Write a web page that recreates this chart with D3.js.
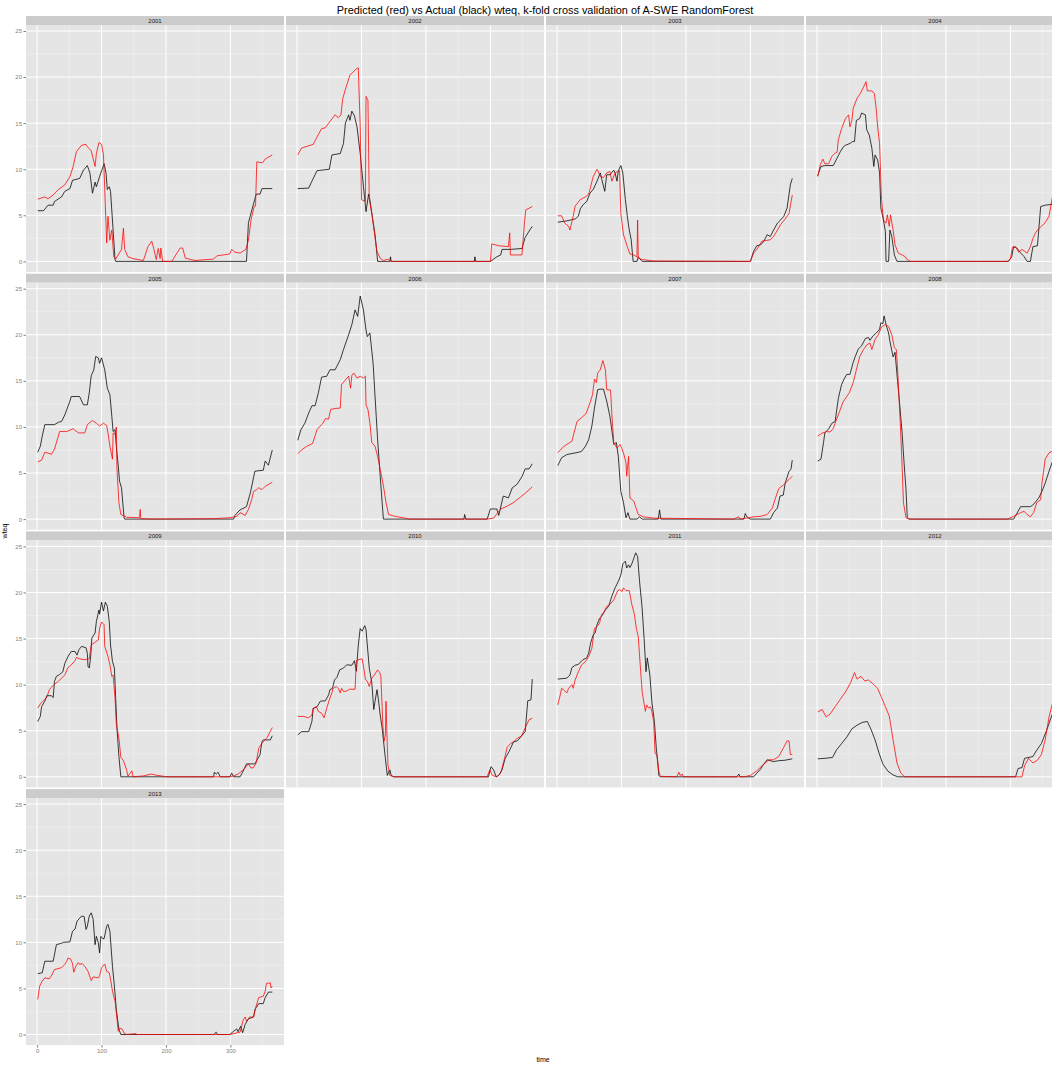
<!DOCTYPE html>
<html>
<head>
<meta charset="utf-8">
<script src="https://cdn.jsdelivr.net/npm/d3@7"></script>
<style>
body { margin: 0; background: #fff; }
svg { font-family: "Liberation Sans", Arial, sans-serif; display: block; }
</style>
</head>
<body>
<div id="chart"></div>
<script>
// Facets and axis ticks
var years = [2001, 2002, 2003, 2004, 2005, 2006, 2007, 2008, 2009, 2010, 2011, 2012, 2013];
var timeTicks = [0, 100, 200, 300];
var timeMinor = [50, 150, 250, 350];
var wteqTicks = [0, 5, 10, 15, 20, 25];
var wteqMinor = [2.5, 7.5, 12.5, 17.5, 22.5];

// Actual (black) and predicted (red) wteq as [time, wteq]
var act2001 = [[1,5.5],[10,5.5],[17,6.1],[25,6.1],[27,6.5],[38,7.0],[43,7.6],[51,7.9],[55,8.8],[66,9.0],[72,9.9],[78,10.4],[82,9.6],[86,7.4],[90,8.6],[92,8.1],[97,9.2],[104,10.6],[107,9.6],[109,7.8],[112,8.1],[114,7.6],[121,0.2],[122,0],[325,0],[328,4.2],[335,6.0],[340,7.3],[346,7.3],[349,7.9],[365,7.9]];
var pred2001 = [[1,6.75],[12,7.0],[17,6.8],[25,7.2],[33,7.8],[43,8.3],[51,9.2],[56,10.3],[61,11.9],[69,12.6],[76,12.7],[78,12.45],[84,12.0],[90,10.3],[92,11.7],[96,12.9],[100,12.7],[103,11.6],[105,7.8],[108,2.0],[110,4.9],[113,2.3],[116,3.4],[119,0.5],[122,0.25],[131,1.3],[134,3.6],[136,1.3],[141,0.5],[149,0.3],[165,0.1],[172,1.6],[178,2.2],[181,1.4],[185,0.2],[188,1.4],[191,0.3],[192,1.45],[195,0],[209,0],[222,1.45],[226,1.45],[230,0.35],[245,0.1],[274,0.25],[279,0.6],[299,0.8],[302,1.3],[307,1.0],[315,0.9],[324,1.3],[328,2.3],[332,4.5],[337,6.0],[339,6.0],[341,10.8],[350,10.7],[354,11.1],[365,11.55]];
var act2002 = [[1,7.9],[18,7.95],[23,8.7],[31,9.85],[50,10.0],[54,11.55],[67,11.7],[72,12.8],[75,15.0],[80,15.9],[82,15.3],[85,16.3],[89,15.8],[93,14.6],[98,11.7],[103,8.1],[107,5.4],[111,7.3],[113,6.7],[116,5.2],[121,2.9],[125,0],[144,0],[145,0.5],[146,0],[275,0],[276,0.5],[277,0],[300,0],[310,0.5],[316,0.7],[318,1.3],[331,1.3],[349,1.4],[354,2.6],[362,3.5],[365,3.8]];
var pred2002 = [[1,11.55],[7,12.3],[25,12.7],[31,13.5],[38,14.4],[44,14.5],[49,15.0],[59,15.9],[64,15.6],[68,15.9],[71,17.7],[76,18.9],[82,20.2],[92,20.9],[95,21.0],[98,14.6],[100,6.7],[106,6.5],[107,17.9],[110,17.5],[112,6.7],[116,5.2],[120,3.1],[124,1.1],[129,0.35],[134,0.1],[142,0.25],[145,0],[300,0],[302,1.9],[313,1.7],[328,1.6],[330,3.1],[331,0.7],[349,0.7],[353,4.3],[355,5.6],[365,5.95]];
var act2003 = [[1,4.25],[15,4.4],[28,4.6],[33,4.9],[36,5.7],[41,6.2],[46,6.5],[51,7.4],[56,7.8],[62,8.7],[67,9.6],[69,9.0],[74,7.6],[77,9.4],[82,9.4],[88,9.9],[90,9.6],[93,8.7],[95,9.85],[99,10.4],[102,9.6],[106,6.7],[109,4.9],[112,3.4],[115,2.35],[118,0],[124,0],[126,0.5],[132,0],[300,0],[305,1.1],[310,1.7],[316,1.8],[321,2.2],[326,2.9],[331,2.7],[336,3.4],[342,4.15],[347,4.5],[352,4.9],[357,5.8],[362,8.3],[365,9.0]];
var pred2003 = [[1,4.95],[7,4.95],[12,4.15],[18,3.8],[20,3.4],[23,4.3],[25,4.9],[28,6.0],[36,6.7],[44,7.0],[49,7.3],[51,7.8],[56,9.2],[62,10.0],[64,9.75],[67,9.2],[72,9.1],[77,9.6],[82,9.75],[85,8.7],[90,9.6],[97,9.85],[99,5.2],[103,2.9],[109,1.6],[113,0.8],[119,0.7],[124,0.5],[125,4.5],[126,0.35],[132,0.2],[150,0.05],[300,0],[305,0.9],[310,1.3],[318,2.2],[331,2.35],[336,2.7],[342,3.4],[347,4.0],[354,4.6],[360,5.2],[365,7.2]];
var act2004 = [[1,9.3],[6,10.3],[12,10.4],[25,10.4],[31,11.2],[36,11.9],[41,12.45],[44,12.6],[51,12.8],[55,13.0],[58,13.0],[61,15.3],[66,15.5],[69,16.1],[75,15.9],[77,14.3],[81,13.7],[85,12.3],[88,10.3],[90,11.55],[94,11.0],[97,9.6],[99,5.8],[103,4.5],[106,3.25],[107,0],[111,0],[113,3.4],[116,2.7],[120,0.7],[124,0],[297,0],[302,0.5],[305,1.6],[310,1.45],[316,0.9],[321,0.55],[326,0],[331,0],[335,1.6],[342,1.7],[347,5.95],[354,6.1],[365,6.2]];
var pred2004 = [[1,9.2],[5,10.5],[9,11.1],[12,10.6],[18,10.6],[23,11.4],[27,11.7],[31,11.85],[33,13.2],[38,14.4],[44,15.5],[49,15.9],[51,14.6],[54,15.3],[56,16.6],[62,17.7],[67,18.2],[72,18.9],[76,19.5],[78,18.5],[85,18.5],[89,18.2],[92,16.4],[94,14.6],[97,12.8],[100,6.7],[103,4.5],[107,4.15],[109,5.05],[112,3.8],[114,5.05],[118,3.4],[121,1.8],[126,0.9],[132,0.7],[137,0.5],[139,0.25],[145,0],[295,0],[300,0.25],[303,1.5],[308,1.6],[313,1.0],[318,1.3],[326,0.9],[331,1.6],[335,2.5],[339,3.1],[342,3.4],[348,3.8],[354,4.2],[360,4.9],[365,6.9]];
var act2005 = [[1,7.25],[5,7.9],[8,9.0],[12,10.25],[27,10.25],[33,10.5],[38,10.6],[43,11.3],[47,12.05],[51,12.8],[53,13.3],[66,13.3],[72,12.4],[78,12.4],[81,13.7],[84,15.55],[88,16.2],[91,17.65],[95,17.5],[97,16.9],[100,17.5],[105,16.2],[109,14.2],[113,13.5],[116,11.15],[118,9.5],[121,9.7],[123,7.9],[126,5.75],[128,4.1],[131,3.4],[135,0.15],[136,0],[305,0],[307,0.4],[315,1.0],[325,1.35],[331,2.85],[338,5.2],[351,5.3],[354,6.3],[359,5.85],[365,7.5]];
var pred2005 = [[1,6.2],[7,6.4],[12,7.25],[20,7.1],[22,7.0],[27,7.6],[33,9.0],[35,9.5],[46,9.5],[56,9.8],[64,9.35],[74,9.35],[78,10.25],[86,10.7],[92,10.4],[97,10.1],[103,10.4],[108,10.15],[110,9.35],[113,7.9],[117,6.5],[118,9.35],[121,9.2],[123,10.0],[124,5.4],[127,1.8],[130,0.5],[139,0.2],[159,0.15],[160,1.05],[161,0.05],[180,0],[274,0.05],[299,0.15],[310,0.3],[315,0.7],[323,0.4],[328,1.05],[333,2.1],[336,3.0],[341,3.2],[344,3.4],[349,3.2],[354,3.55],[365,4.0]];
var act2006 = [[1,8.55],[6,9.7],[12,10.4],[18,11.5],[23,12.3],[28,12.3],[33,13.7],[38,15.4],[46,15.5],[51,16.2],[59,16.2],[67,17.3],[72,18.4],[80,20.0],[85,21.1],[90,22.7],[94,22.0],[98,24.2],[103,22.7],[107,20.5],[109,19.8],[113,20.2],[118,16.9],[121,13.3],[125,8.6],[129,4.65],[132,1.8],[134,0],[259,0],[260,0.5],[262,0],[295,0],[300,1.1],[310,1.1],[313,0.4],[320,2.5],[328,2.3],[334,3.4],[341,3.75],[349,4.6],[354,5.45],[360,5.45],[365,6.0]];
var pred2006 = [[1,7.1],[7,7.5],[15,7.9],[24,8.2],[31,9.7],[36,10.1],[40,10.4],[44,10.9],[49,10.85],[52,11.9],[59,12.0],[67,12.05],[69,14.6],[75,15.1],[80,15.5],[83,14.2],[85,15.6],[88,15.85],[93,15.3],[98,15.5],[103,15.3],[106,15.5],[107,12.4],[110,11.9],[113,10.4],[116,8.3],[121,7.9],[125,6.8],[129,5.4],[134,3.6],[138,1.8],[142,0.5],[152,0.3],[168,0.1],[175,0],[295,0],[305,0.1],[316,1.1],[326,1.4],[336,1.8],[347,2.4],[354,2.8],[365,3.5]];
var act2007 = [[1,5.8],[7,6.65],[15,7.0],[33,7.25],[38,7.35],[44,7.9],[49,8.6],[54,10.1],[58,12.05],[63,14.05],[67,14.1],[72,14.1],[77,12.8],[82,11.15],[88,8.1],[92,8.3],[95,6.8],[99,3.0],[103,1.8],[107,0.15],[110,0.7],[113,0],[124,0],[128,0.25],[132,0],[157,0],[159,1.0],[161,0],[290,0],[292,0.6],[295,0.2],[300,0],[331,0],[336,0.7],[342,1.2],[346,2.5],[351,2.6],[354,3.9],[360,5.2],[363,5.4],[365,6.4]];
var pred2007 = [[1,7.2],[10,7.85],[15,8.1],[23,8.45],[25,9.0],[31,10.6],[38,11.0],[45,11.45],[51,12.6],[55,13.5],[58,15.2],[61,14.8],[63,15.85],[67,16.2],[71,17.2],[75,16.2],[77,14.05],[83,14.0],[85,11.4],[88,8.3],[93,7.7],[98,8.1],[103,7.2],[107,6.1],[108,4.65],[111,6.8],[113,2.3],[119,1.95],[126,0.5],[134,0.25],[150,0.1],[274,0],[282,0.25],[284,0],[305,0.25],[316,0.3],[326,0.5],[334,1.2],[339,2.3],[344,3.3],[352,3.75],[360,4.3],[365,4.65]];
var act2008 = [[1,6.3],[6,6.5],[10,8.3],[12,9.35],[18,9.8],[23,10.4],[28,10.6],[33,13.1],[38,14.6],[42,15.2],[46,15.7],[51,15.7],[56,17.0],[59,17.6],[64,18.45],[69,18.8],[75,19.6],[80,19.7],[82,19.4],[87,19.9],[92,20.2],[97,20.6],[99,21.3],[102,21.2],[104,22.05],[107,21.1],[111,20.2],[113,19.3],[118,17.6],[121,18.1],[125,14.9],[128,12.6],[132,9.35],[135,6.1],[138,3.2],[140,0.15],[142,0],[305,0],[316,1.35],[331,1.35],[336,1.6],[344,2.3],[349,3.0],[354,3.9],[360,5.2],[365,6.2]];
var pred2008 = [[1,9.0],[7,9.3],[15,9.5],[20,9.45],[25,9.8],[29,10.6],[35,11.7],[40,12.65],[45,13.2],[50,13.7],[56,14.8],[61,16.2],[66,17.6],[72,18.4],[77,18.9],[82,19.1],[85,18.4],[90,19.5],[95,20.0],[100,20.85],[106,21.1],[111,20.9],[116,20.0],[120,18.6],[123,18.4],[125,16.2],[129,10.6],[132,5.7],[134,1.8],[138,0.15],[145,0],[295,0],[305,0.3],[316,0.7],[321,0.85],[326,0.5],[331,0.25],[336,0.7],[341,1.8],[347,2.1],[349,3.9],[354,6.5],[360,7.2],[365,7.35]];
var act2009 = [[1,6.0],[5,6.55],[7,7.6],[12,8.2],[15,8.8],[22,8.8],[25,8.6],[27,10.35],[30,10.9],[35,11.1],[40,11.4],[43,12.3],[48,13.05],[53,13.6],[59,13.6],[62,13.2],[65,13.8],[69,14.15],[76,14.0],[78,13.4],[79,12.0],[81,11.8],[83,12.9],[85,15.05],[90,15.6],[92,16.85],[96,18.1],[97,17.65],[100,18.95],[103,18.0],[106,18.95],[109,18.5],[112,16.85],[114,14.3],[117,12.5],[120,11.8],[122,8.5],[124,5.3],[127,2.2],[130,0],[274,0],[275,0.5],[278,0.3],[281,0.5],[284,0],[299,0],[302,0.4],[305,0],[315,0],[319,0.5],[325,1.4],[338,1.4],[346,2.4],[349,3.8],[351,4.0],[362,4.0],[365,4.45]];
var pred2009 = [[1,7.45],[5,7.9],[9,8.2],[15,8.6],[19,9.45],[22,9.7],[27,10.05],[33,10.35],[38,10.7],[43,11.05],[48,11.85],[53,12.15],[59,12.6],[61,12.95],[66,12.8],[74,12.7],[81,12.8],[84,14.3],[90,14.6],[95,14.85],[97,16.1],[100,16.8],[104,16.5],[105,14.15],[108,13.5],[110,13.05],[113,12.15],[116,10.9],[118,11.05],[121,8.5],[123,5.65],[127,4.2],[130,2.1],[134,1.75],[139,0.75],[141,0.05],[147,0.65],[149,0],[165,0.1],[178,0.3],[183,0.2],[201,0],[299,0],[305,0.1],[312,0.3],[320,0.75],[328,1.4],[332,0.95],[336,1.0],[340,1.5],[344,3.1],[349,3.65],[357,4.25],[365,5.35]];
var act2010 = [[1,4.55],[7,4.9],[18,4.9],[23,6.0],[25,7.4],[31,7.6],[36,8.2],[44,8.25],[49,8.9],[51,9.45],[55,9.6],[58,10.5],[62,10.8],[66,11.6],[72,11.8],[77,12.15],[85,12.1],[89,12.6],[92,11.45],[95,14.3],[98,16.1],[101,15.8],[105,16.4],[107,15.95],[109,14.3],[112,11.8],[116,10.2],[119,7.3],[121,8.2],[124,9.45],[126,8.5],[129,6.7],[132,5.3],[134,4.0],[137,2.0],[140,0.15],[144,0.75],[146,0.15],[150,0],[297,0],[301,1.1],[305,0.75],[309,0],[313,0.15],[318,0.75],[323,2.0],[329,2.75],[336,3.8],[342,3.9],[348,4.4],[354,4.9],[358,8.25],[363,8.35],[365,10.6]];
var pred2010 = [[1,6.55],[10,6.55],[18,6.4],[23,6.7],[25,7.45],[30,7.6],[33,7.1],[38,6.9],[42,6.4],[46,7.45],[50,8.35],[54,9.1],[56,9.6],[61,9.8],[64,9.6],[67,9.1],[69,9.6],[72,9.25],[77,9.3],[81,9.5],[90,9.5],[92,12.6],[95,12.7],[101,12.8],[103,12.0],[106,10.6],[109,10.35],[112,9.8],[116,10.7],[120,11.05],[125,11.6],[128,11.35],[130,10.9],[132,7.6],[133,5.65],[135,3.85],[137,4.55],[138,8.2],[139,5.65],[141,1.3],[144,0.15],[150,0],[295,0],[299,0.75],[303,0.15],[310,0],[316,0.4],[322,2.0],[326,3.2],[332,3.65],[337,3.85],[342,4.2],[348,4.4],[354,5.3],[360,6.2],[365,6.35]];
var act2011 = [[1,10.6],[15,10.7],[20,11.05],[23,11.85],[28,12.1],[33,12.2],[40,12.7],[46,12.9],[49,13.4],[52,14.5],[56,15.4],[59,15.6],[62,16.5],[66,17.2],[69,17.4],[75,18.1],[80,18.5],[85,19.6],[90,20.5],[95,21.2],[99,21.9],[102,23.1],[106,23.4],[108,22.65],[111,23.0],[113,22.7],[116,23.1],[119,23.7],[122,24.3],[125,23.9],[128,21.2],[132,18.3],[135,15.05],[138,11.4],[140,12.9],[144,11.05],[147,8.2],[151,6.0],[154,3.1],[158,0.15],[160,0],[279,0],[282,0.3],[284,0],[305,0],[310,0.4],[316,0.85],[320,1.3],[326,1.85],[336,1.65],[344,1.75],[354,1.8],[365,1.95]];
var pred2011 = [[1,7.8],[5,8.9],[7,9.6],[10,9.45],[15,9.1],[18,9.6],[23,10.0],[25,9.6],[28,10.5],[33,11.4],[38,12.15],[44,12.5],[49,13.05],[54,13.95],[58,16.1],[62,16.3],[66,16.7],[69,17.6],[72,17.75],[77,18.5],[82,18.7],[88,19.2],[94,20.2],[97,20.3],[101,20.1],[103,20.5],[107,20.2],[112,20.2],[116,18.7],[120,17.6],[123,16.1],[126,15.2],[129,12.15],[132,9.25],[134,8.35],[137,7.1],[139,7.8],[142,7.45],[145,7.6],[147,7.1],[150,6.0],[152,2.55],[155,2.4],[158,0.6],[160,0.05],[186,0],[189,0.5],[191,0.15],[194,0.3],[196,0],[290,0],[300,0.15],[310,0.65],[318,1.2],[329,1.85],[336,1.85],[344,2.2],[351,3.1],[357,3.9],[360,3.9],[362,2.4],[365,2.45]];
var act2012 = [[1,1.95],[12,2.0],[24,2.1],[30,2.9],[38,3.6],[46,4.3],[54,5.2],[62,5.6],[70,5.9],[78,6.0],[84,5.1],[90,4.0],[96,2.6],[102,1.4],[110,0.6],[118,0.2],[125,0],[308,0],[312,0.9],[318,1.0],[322,2.0],[335,2.2],[340,2.8],[348,3.6],[356,5.0],[365,6.8]];
var pred2012 = [[1,7.05],[8,7.3],[14,6.5],[20,6.8],[28,7.6],[36,8.4],[44,9.2],[52,10.2],[58,11.3],[62,10.6],[68,10.9],[74,10.4],[80,10.5],[88,10.0],[94,9.6],[100,8.6],[106,7.6],[112,6.6],[118,4.0],[124,1.5],[130,0.4],[136,0],[318,0],[322,1.2],[328,2.0],[335,1.5],[342,1.8],[348,2.4],[354,4.0],[360,6.5],[365,7.9]];
var act2013 = [[1,6.6],[8,6.7],[12,7.95],[25,7.95],[30,9.75],[38,9.9],[41,10.0],[51,10.05],[55,11.2],[59,11.45],[62,12.3],[69,12.85],[73,12.8],[76,11.4],[78,11.75],[81,12.85],[84,13.2],[87,12.5],[90,9.75],[92,10.65],[95,9.95],[97,8.85],[99,10.65],[102,10.4],[104,10.4],[108,11.75],[110,11.95],[113,11.2],[117,7.4],[120,5.25],[123,2.7],[127,0.55],[130,0],[274,0],[278,0.25],[280,0],[299,0],[305,0.35],[310,0.6],[312,0.3],[316,0.9],[319,0.2],[323,1.1],[328,1.7],[336,1.9],[338,2.7],[344,3.35],[351,3.35],[354,4.0],[359,4.6],[365,4.6]];
var pred2013 = [[1,3.8],[4,5.25],[8,5.8],[12,6.15],[19,6.05],[22,6.35],[27,7.05],[38,7.25],[43,7.6],[46,7.95],[48,8.3],[52,8.2],[55,7.7],[57,6.75],[60,7.4],[64,7.8],[66,7.6],[70,7.7],[74,7.4],[79,6.85],[84,5.85],[87,6.25],[95,6.15],[97,6.35],[100,7.25],[105,7.65],[108,6.85],[112,6.7],[114,6.0],[117,4.7],[121,3.6],[123,2.35],[126,0.35],[128,0.7],[132,0.6],[135,0.15],[139,0],[153,0.1],[155,0],[299,0],[315,0.25],[320,1.6],[323,1.9],[325,1.45],[330,1.9],[336,1.9],[340,3.1],[344,4.0],[351,4.15],[354,4.7],[356,5.55],[362,5.6],[363,5.05],[365,5.25]];

var actualSeries = [act2001, act2002, act2003, act2004, act2005, act2006, act2007, act2008, act2009, act2010, act2011, act2012, act2013];
var predictedSeries = [pred2001, pred2002, pred2003, pred2004, pred2005, pred2006, pred2007, pred2008, pred2009, pred2010, pred2011, pred2012, pred2013];

// Page and facet layout
var svgWidth = 1052;
var svgHeight = 1065;
var grid = { left: 26, top: 16, panelW: 258, panelH: 247, stripH: 9, colStep: 260, rowStep: 257.7, cols: 4 };

var svg = d3.select("#chart")
    .append("svg")
    .attr("width", svgWidth)
    .attr("height", svgHeight);

// Shared scales (ggplot adds 5% padding on each side)
var xScale = d3.scaleLinear().domain([-17.2, 383.2]).range([0, grid.panelW]);
var yScale = d3.scaleLinear().domain([-1.15, 25.65]).range([grid.panelH, 0]);

var valueLine = d3.line()
    .x(function (d) { return xScale(d[0]); })
    .y(function (d) { return yScale(d[1]); });

svg.append("defs").append("clipPath")
    .attr("id", "panel-clip")
    .append("rect")
    .attr("width", grid.panelW)
    .attr("height", grid.panelH);

var nRows = Math.ceil(years.length / grid.cols);

years.forEach(function (year, i) {
    var col = i % grid.cols;
    var row = Math.floor(i / grid.cols);
    var px = grid.left + col * grid.colStep;
    var py = grid.top + row * grid.rowStep + grid.stripH;

    var g = svg.append("g").attr("transform", "translate(" + px + "," + py + ")");

    // strip
    g.append("rect")
        .attr("x", 0).attr("y", -grid.stripH)
        .attr("width", grid.panelW).attr("height", grid.stripH)
        .attr("fill", "#cccccc");
    g.append("text")
        .attr("x", grid.panelW / 2).attr("y", -2.2)
        .attr("text-anchor", "middle")
        .attr("font-size", "6px")
        .attr("fill", "#1a1a1a")
        .text(year);

    // panel background and grid
    g.append("rect")
        .attr("width", grid.panelW).attr("height", grid.panelH)
        .attr("fill", "#e5e5e5");

    g.selectAll(".minor-y").data(wteqMinor).enter().append("line")
        .attr("x1", 0).attr("x2", grid.panelW)
        .attr("y1", function (d) { return yScale(d); })
        .attr("y2", function (d) { return yScale(d); })
        .attr("stroke", "#f2f2f2").attr("stroke-width", 0.5);
    g.selectAll(".minor-x").data(timeMinor).enter().append("line")
        .attr("y1", 0).attr("y2", grid.panelH)
        .attr("x1", function (d) { return xScale(d); })
        .attr("x2", function (d) { return xScale(d); })
        .attr("stroke", "#f2f2f2").attr("stroke-width", 0.5);
    g.selectAll(".major-y").data(wteqTicks).enter().append("line")
        .attr("x1", 0).attr("x2", grid.panelW)
        .attr("y1", function (d) { return yScale(d); })
        .attr("y2", function (d) { return yScale(d); })
        .attr("stroke", "#ffffff").attr("stroke-width", 1);
    g.selectAll(".major-x").data(timeTicks).enter().append("line")
        .attr("y1", 0).attr("y2", grid.panelH)
        .attr("x1", function (d) { return xScale(d); })
        .attr("x2", function (d) { return xScale(d); })
        .attr("stroke", "#ffffff").attr("stroke-width", 1);

    // lines
    var lines = g.append("g").attr("clip-path", "url(#panel-clip)");
    lines.append("path")
        .datum(actualSeries[i])
        .attr("d", valueLine)
        .attr("fill", "none")
        .attr("stroke", "#000000")
        .attr("stroke-width", 0.9)
        .attr("stroke-opacity", 0.85);
    lines.append("path")
        .datum(predictedSeries[i])
        .attr("d", valueLine)
        .attr("fill", "none")
        .attr("stroke", "#ff0000")
        .attr("stroke-width", 0.9)
        .attr("stroke-opacity", 0.85);

    // y axis on the first column
    if (col === 0) {
        var leftAxis = d3.axisLeft(yScale).tickValues(wteqTicks).tickSize(2.5).tickPadding(1.5);
        var ya = g.append("g").call(leftAxis);
        ya.select(".domain").remove();
        ya.selectAll("line").attr("stroke", "#7f7f7f");
        ya.selectAll("text")
            .attr("font-size", "6px")
            .attr("font-family", "Liberation Sans, Arial, sans-serif")
            .attr("fill", "#7f7f7f");
    }

    // x axis on the bottom panel of the column
    var lastRowForCol = Math.floor((years.length - 1 - col) / grid.cols);
    if (row === lastRowForCol && row === nRows - 1) {
        var bottomAxis = d3.axisBottom(xScale).tickValues(timeTicks).tickSize(2.5).tickPadding(1.5);
        var xa = g.append("g")
            .attr("transform", "translate(0," + grid.panelH + ")")
            .call(bottomAxis);
        xa.select(".domain").remove();
        xa.selectAll("line").attr("stroke", "#7f7f7f");
        xa.selectAll("text")
            .attr("font-size", "6px")
            .attr("font-family", "Liberation Sans, Arial, sans-serif")
            .attr("fill", "#7f7f7f");
    }
});

// Title and axis titles
svg.append("text")
    .attr("x", 545).attr("y", 14)
    .attr("text-anchor", "middle")
    .attr("font-size", "10.9px")
    .attr("fill", "#000")
    .text("Predicted (red) vs Actual (black) wteq, k-fold cross validation of A-SWE RandomForest");

svg.append("text")
    .attr("x", 543).attr("y", 1062)
    .attr("text-anchor", "middle")
    .attr("font-size", "7px")
    .attr("fill", "#000")
    .text("time");

svg.append("text")
    .attr("transform", "translate(7,531) rotate(-90)")
    .attr("text-anchor", "middle")
    .attr("font-size", "7px")
    .attr("fill", "#000")
    .text("wteq");
</script>
</body>
</html>
